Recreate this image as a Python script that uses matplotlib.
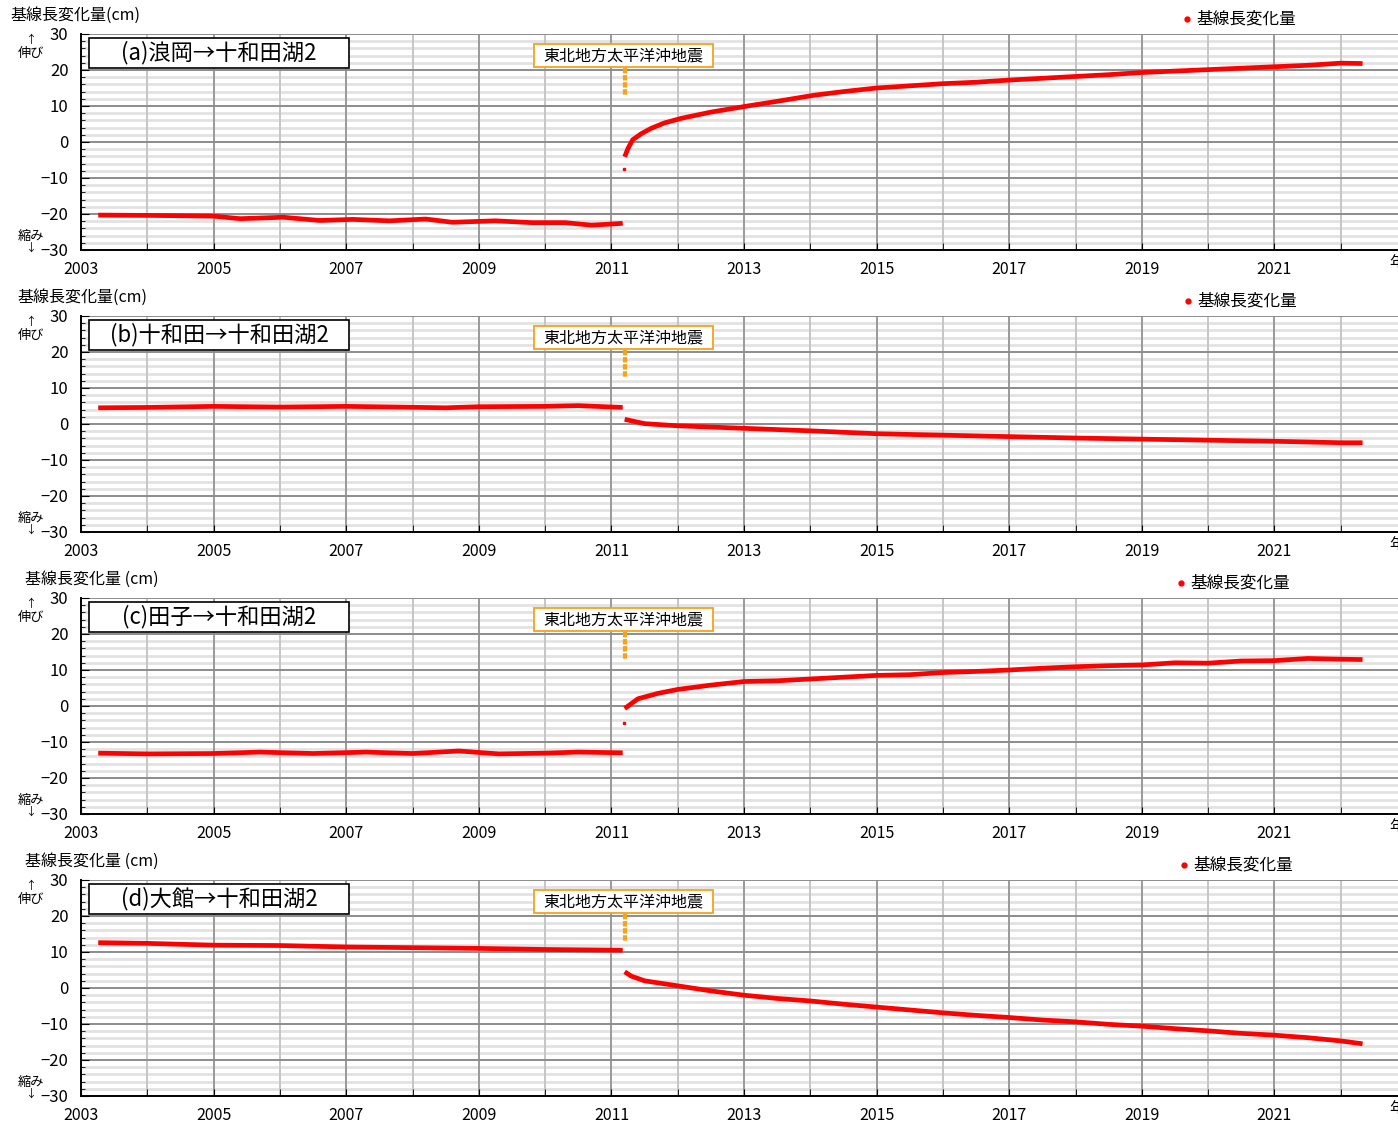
import matplotlib.pyplot as plt
from matplotlib.patches import Rectangle
from matplotlib.ticker import MultipleLocator

plt.rcParams['font.family'] = ['Noto Sans CJK JP', 'DejaVu Sans']

# 地震の時刻 (2011/3/11)
quake = 2011.19

# (a) 浪岡→十和田湖2
a_pre_t = [2003.26, 2004.1, 2005.0, 2005.4, 2006.05, 2006.6, 2007.1, 2007.65, 2008.2, 2008.6,
           2009.25, 2009.8, 2010.3, 2010.7, 2011.17]
a_pre_v = [-20.3, -20.4, -20.6, -21.3, -20.9, -21.8, -21.5, -21.9, -21.4, -22.3,
           -21.9, -22.4, -22.4, -23.1, -22.6]
a_post_t = [2011.2, 2011.25, 2011.32, 2011.45, 2011.6, 2011.8, 2012.06, 2012.5, 2013.02, 2013.5,
            2014.06, 2014.5, 2015.0, 2015.5, 2016.0, 2016.5, 2017.0, 2017.5, 2018.0, 2018.5,
            2019.0, 2019.5, 2020.0, 2020.5, 2021.0, 2021.5, 2022.0, 2022.33]
a_post_v = [-4.1, -1.8, 0.6, 2.3, 3.8, 5.3, 6.6, 8.3, 9.9, 11.3,
            13.0, 14.0, 15.0, 15.6, 16.2, 16.6, 17.2, 17.7, 18.2, 18.7,
            19.3, 19.7, 20.1, 20.5, 20.9, 21.3, 21.9, 21.8]
a_odd = (2011.195, -7.6)

# (b) 十和田→十和田湖2
b_pre_t = [2003.26, 2004.0, 2005.0, 2006.0, 2007.0, 2007.8, 2008.5, 2009.0, 2010.0, 2010.5, 2011.17]
b_pre_v = [4.5, 4.6, 4.9, 4.7, 4.9, 4.7, 4.5, 4.8, 4.9, 5.1, 4.6]
b_post_t = [2011.2, 2011.5, 2012.0, 2013.0, 2014.0, 2015.0, 2016.0, 2017.0, 2018.0, 2019.0,
            2020.0, 2021.0, 2022.0, 2022.33]
b_post_v = [1.3, 0.1, -0.5, -1.2, -1.9, -2.7, -3.1, -3.5, -3.9, -4.2,
            -4.5, -4.8, -5.2, -5.2]

# (c) 田子→十和田湖2
c_pre_t = [2003.26, 2004.0, 2005.0, 2005.7, 2006.5, 2007.3, 2008.0, 2008.7, 2009.3, 2010.0,
           2010.5, 2011.17]
c_pre_v = [-13.1, -13.3, -13.2, -12.8, -13.2, -12.8, -13.2, -12.5, -13.3, -13.1,
           -12.8, -13.0]
c_post_t = [2011.2, 2011.4, 2011.7, 2012.0, 2012.5, 2013.0, 2013.5, 2014.0, 2014.5, 2015.0,
            2015.5, 2016.0, 2016.5, 2017.0, 2017.5, 2018.0, 2018.5, 2019.0, 2019.5, 2020.0,
            2020.5, 2021.0, 2021.5, 2022.0, 2022.33]
c_post_v = [-0.7, 2.0, 3.5, 4.6, 5.8, 6.8, 7.0, 7.5, 8.0, 8.5,
            8.7, 9.3, 9.6, 10.0, 10.5, 10.9, 11.2, 11.4, 12.0, 11.9,
            12.5, 12.6, 13.2, 13.0, 12.9]
c_odd = (2011.195, -4.6)

# (d) 大館→十和田湖2
d_pre_t = [2003.26, 2004.0, 2005.0, 2006.0, 2007.0, 2008.0, 2009.0, 2010.0, 2011.17]
d_pre_v = [12.6, 12.4, 11.9, 11.8, 11.4, 11.2, 11.0, 10.7, 10.5]
d_post_t = [2011.2, 2011.3, 2011.5, 2012.0, 2012.5, 2013.0, 2013.5, 2014.0, 2014.5, 2015.0,
            2015.5, 2016.0, 2016.5, 2017.0, 2017.5, 2018.0, 2018.5, 2019.0, 2019.5, 2020.0,
            2020.5, 2021.0, 2021.5, 2022.0, 2022.33]
d_post_v = [4.5, 3.3, 2.0, 0.6, -0.8, -2.0, -2.9, -3.6, -4.5, -5.3,
            -6.1, -6.9, -7.6, -8.2, -8.9, -9.4, -10.1, -10.6, -11.3, -11.9,
            -12.6, -13.1, -13.8, -14.7, -15.5]

titles = ['(a)浪岡→十和田湖2', '(b)十和田→十和田湖2', '(c)田子→十和田湖2', '(d)大館→十和田湖2']
ylabels = ['基線長変化量(cm)', '基線長変化量(cm)', '基線長変化量 (cm)', '基線長変化量 (cm)']
ylabel_x = [10, 17, 25, 25]
legend_x = [1187, 1188, 1181, 1184]
year_labels = list(range(2003, 2022, 2))

panels = [
    (a_pre_t, a_pre_v, a_post_t, a_post_v, a_odd),
    (b_pre_t, b_pre_v, b_post_t, b_post_v, None),
    (c_pre_t, c_pre_v, c_post_t, c_post_v, c_odd),
    (d_pre_t, d_pre_v, d_post_t, d_post_v, None),
]

W, H = 1398, 1122
fig = plt.figure(figsize=(W / 100, H / 100), dpi=100)

left = 81
tops = [34, 316, 598, 880]
ph = 216
xmax = 2003 + (W - left) / 66.3

for i, (pt, pv, qt, qv, odd) in enumerate(panels):
    top = tops[i]
    ax = fig.add_axes([left / W, 1 - (top + ph) / H, (W - left) / W, ph / H])
    ax.set_xlim(2003, xmax)
    ax.set_ylim(-30, 30)

    # grid, drawn by hand so the layers stack like the original
    for v in range(-28, 30, 2):
        if v % 10:
            ax.axhline(v, color='#e2e2e2', lw=2, zorder=0.1)
    for yr in range(2004, 2023):
        c = '#9a9a9a' if yr % 2 else '#c6c6c6'
        ax.axvline(yr, color=c, lw=1.4, zorder=0.2)
    for v in (-20, -10, 0, 10, 20, 30):
        ax.axhline(v, color='#8c8c8c', lw=1.4, zorder=0.3)

    ax.xaxis.set_minor_locator(MultipleLocator(1))
    ax.yaxis.set_minor_locator(MultipleLocator(2))
    ax.set_xticks(year_labels)
    ax.set_xticklabels([str(y) for y in year_labels], fontsize=11.5)
    ax.set_yticks([-30, -20, -10, 0, 10, 20, 30])
    ax.set_yticklabels(['−30', '−20', '−10', '0', '10', '20', '30'], fontsize=12)
    ax.tick_params(which='both', direction='in', color='black')
    ax.tick_params(axis='x', which='major', length=5, pad=8)
    ax.tick_params(axis='x', which='minor', length=5)
    ax.tick_params(axis='y', which='major', length=6, pad=9)
    ax.tick_params(axis='y', which='minor', length=3)

    ax.spines['right'].set_visible(False)
    ax.spines['top'].set_visible(False)
    ax.spines['left'].set_linewidth(1.4)
    ax.spines['bottom'].set_linewidth(1.4)

    # data
    ax.plot(pt, pv, color='red', lw=3.4, solid_capstyle='butt', zorder=3)
    ax.plot(qt, qv, color='red', lw=3.4, solid_capstyle='butt', zorder=3)
    if odd is not None:
        ax.plot([odd[0]], [odd[1]], 's', color='red', ms=1.5, zorder=3)

    # title box
    bx0 = (89 - left) / (W - left)
    bx1 = (349 - left) / (W - left)
    by0 = 1 - 34 / ph
    by1 = 1 - 4 / ph
    ax.add_patch(Rectangle((bx0, by0), bx1 - bx0, by1 - by0, transform=ax.transAxes,
                           facecolor='white', edgecolor='black', lw=1.2, zorder=5))
    ax.text((bx0 + bx1) / 2, (by0 + by1) / 2, titles[i], transform=ax.transAxes,
            ha='center', va='center', fontsize=16, zorder=6)

    # earthquake label
    ex0 = (534 - left) / (W - left)
    ex1 = (713 - left) / (W - left)
    ey0 = 1 - 33 / ph
    ey1 = 1 - 10 / ph
    ax.add_patch(Rectangle((ex0, ey0), ex1 - ex0, ey1 - ey0, transform=ax.transAxes,
                           facecolor='white', edgecolor='#f5a31a', lw=1.3, zorder=5))
    ax.text((ex0 + ex1) / 2, (ey0 + ey1) / 2 - 0.004, '東北地方太平洋沖地震', transform=ax.transAxes,
            ha='center', va='center', fontsize=11.5, zorder=6)
    ax.plot([quake + 0.02, quake + 0.02], [20.6, 13.1], color='#f5a31a', lw=3,
            linestyle=(0, (1.3, 0.4)), zorder=4)

    # legend
    ax.plot([(legend_x[i] - left) / (W - left)], [1 + 15 / ph], 'o', color='red', ms=3.5,
            transform=ax.transAxes, clip_on=False)
    ax.text((legend_x[i] + 9 - left) / (W - left), 1 + 15 / ph, '基線長変化量',
            transform=ax.transAxes, ha='left', va='center', fontsize=12)

    # y label
    ax.text((ylabel_x[i] - left) / (W - left), 1 + 19 / ph, ylabels[i],
            transform=ax.transAxes, ha='left', va='center', fontsize=11.5)

    # 伸び / 縮み
    ax.text((31 - left) / (W - left), 1 - 6 / ph, '↑', transform=ax.transAxes,
            ha='center', va='center', fontsize=8)
    ax.text((31 - left) / (W - left), 1 - 19 / ph, '伸び', transform=ax.transAxes,
            ha='center', va='center', fontsize=9.5)
    ax.text((31 - left) / (W - left), 14 / ph, '縮み', transform=ax.transAxes,
            ha='center', va='center', fontsize=9.5)
    ax.text((31 - left) / (W - left), 2 / ph, '↓', transform=ax.transAxes,
            ha='center', va='center', fontsize=8)

    # 年 (cut at the right edge, as in the original)
    fig.text(1389 / W, 1 - (top + ph + 13) / H, '年', ha='left', va='center', fontsize=11)

fig.savefig('out.png', dpi=100)
